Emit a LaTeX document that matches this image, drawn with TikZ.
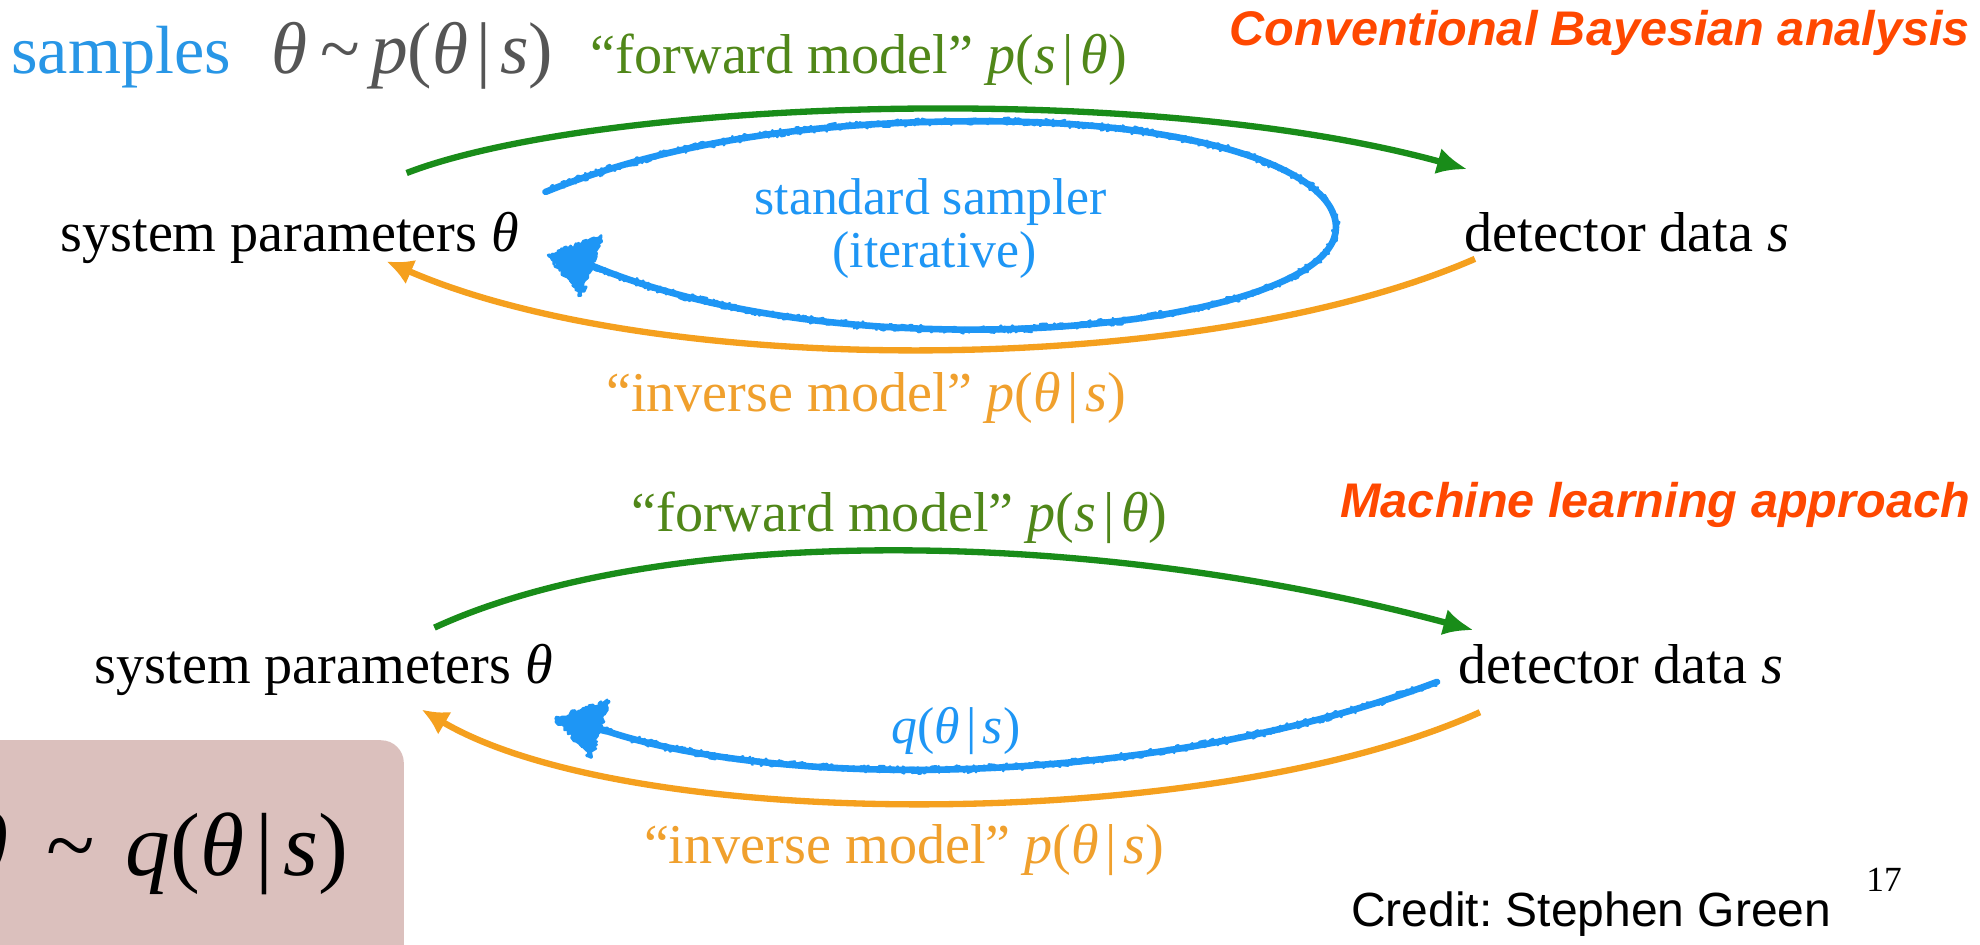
\documentclass[tikz,border=0pt]{standalone}
\usepackage{fontspec}
\setmainfont{Liberation Serif}
\newfontfamily\sansfam{Liberation Sans}
\usetikzlibrary{arrows.meta,decorations.pathmorphing}
\definecolor{sampleblue}{RGB}{40,150,230}
\definecolor{scribblue}{RGB}{30,150,245}
\definecolor{mathgray}{RGB}{85,85,85}
\definecolor{greentext}{RGB}{80,135,25}
\definecolor{greenline}{RGB}{25,140,25}
\definecolor{orangeline}{RGB}{245,160,30}
\definecolor{orangetext}{RGB}{240,160,45}
\definecolor{titlered}{RGB}{255,72,0}
\definecolor{boxpink}{RGB}{219,192,189}
\tikzset{
  lbl/.style={inner sep=0pt, outer sep=0pt},
  body/.style={lbl, font=\fontsize{44.5}{50}\selectfont},
  bluelbl/.style={lbl, text=scribblue, font=\fontsize{41}{46}\selectfont},
  titletext/.style={lbl, text=titlered, font=\sansfam\bfseries\itshape\fontsize{38.5}{45}\selectfont},
  garrow/.style={draw=greenline, line width=5pt, -{Latex[length=24pt,width=21pt]}},
  oarrow/.style={draw=orangeline, line width=5pt, -{Latex[length=21pt,width=21pt]}},
  scribbase/.style={draw=scribblue, line width=5.2pt, line cap=round, line join=round},
  scribfuzz/.style={draw=scribblue, line width=2pt, line cap=round, line join=round, decorate,
      decoration={random steps, segment length=1.3pt, amplitude=3pt}},
  scribhead/.style={fill=scribblue, draw=scribblue, line width=2pt, line join=round, decorate,
      decoration={random steps, segment length=1.5pt, amplitude=1.8pt}},
}
\newcommand{\thet}{\textit{θ}}
\newcommand{\vbar}{\kern0.12em|\kern0.12em}
\begin{document}
\frenchspacing
\begin{tikzpicture}[x=1pt,y=-1pt]
\pgfmathsetseed{7}
\useasboundingbox (0,0) rectangle (1568,748);
\fill[white] (0,0) rectangle (1568,748);
\clip (0,0) rectangle (1568,748);

% ---------- top row ----------
\node[lbl, anchor=base west] (samples) at (9,58)
  {\color{sampleblue}\fontsize{54}{60}\selectfont samples\hspace{32pt}%
   \color{mathgray}\fontsize{58}{60}\selectfont\thet\hspace{10pt}\textasciitilde\hspace{9pt}\textit{p}(\thet\vbar\textit{s})};
\node[body, text=greentext, anchor=base west] (fwd1) at (468,58)
  {“forward model” \textit{p}(\textit{s}\vbar\thet)};
\node[titletext, anchor=base east] (title1) at (1560,36) {Conventional Bayesian analysis};

\node[body, anchor=base west] (sys1) at (48,199) {system parameters \thet};
\node[body, anchor=base west] (det1) at (1160,199) {detector data \textit{s}};

\node[bluelbl, anchor=base] (samp1) at (737,170) {standard sampler};
\node[bluelbl, anchor=base] (iter1) at (740,212) {(iterative)};

\node[body, text=orangetext, anchor=base west] (inv1) at (480,326)
  {“inverse model” \textit{p}(\thet\vbar\textit{s})};

\coordinate (g1s) at (322,137);
\coordinate (g1e) at (1162,134);
\draw[garrow] (g1s) .. controls (470,80) and (900,62) .. (g1e);

\coordinate (o1s) at (1168,205);
\coordinate (o1e) at (306,207);
\draw[oarrow] (o1s) .. controls (950,300) and (520,300) .. (o1e);

\coordinate (b1s) at (432,152);
\coordinate (b1e) at (468,210);
\draw[scribbase] (b1s) .. controls (540,108) and (660,96) .. (778,96)
  .. controls (950,96) and (1058,135) .. (1058,180)
  .. controls (1058,228) and (920,262) .. (762,261)
  .. controls (640,260) and (540,240) .. (b1e);
\draw[scribfuzz] (b1s) .. controls (540,108) and (660,96) .. (778,96)
  .. controls (950,96) and (1058,135) .. (1058,180)
  .. controls (1058,228) and (920,262) .. (762,261)
  .. controls (640,260) and (540,240) .. (b1e);
\path[scribhead] (434,202) -- (476,188) -- (460,234) -- cycle;

% ---------- bottom row ----------
\node[titletext, anchor=base east] (title2) at (1560,410) {Machine learning approach};
\node[body, text=greentext, anchor=base west] (fwd2) at (500,421)
  {“forward model” \textit{p}(\textit{s}\vbar\thet)};

\node[body, anchor=base west] (sys2) at (75,541) {system parameters \thet};
\node[body, anchor=base west] (det2) at (1155,541) {detector data \textit{s}};

\coordinate (g2s) at (344,497);
\coordinate (g2e) at (1167,499);
\draw[garrow] (g2s) .. controls (520,416) and (857,416) .. (g2e);

\coordinate (b2s) at (1138,540);
\coordinate (b2m) at (764,609);
\coordinate (b2e) at (475,577);
\draw[scribbase] (b2s) .. controls (1019,585) and (884,605) .. (b2m)
  .. controls (643,613) and (536,599) .. (b2e);
\draw[scribfuzz] (b2s) .. controls (1019,585) and (884,605) .. (b2m)
  .. controls (643,613) and (536,599) .. (b2e);
\path[scribhead] (440,569) -- (482,555) -- (468,600) -- cycle;
\node[bluelbl, anchor=base west] (qlbl) at (706,589) {\textit{q}(\thet\vbar\textit{s})};

\coordinate (o2s) at (1172,564);
\coordinate (o2e) at (334,562);
\draw[oarrow] (o2s) .. controls (960,660) and (500,660) .. (o2e);

\node[body, text=orangetext, anchor=base west] (inv2) at (510,684)
  {“inverse model” \textit{p}(\thet\vbar\textit{s})};

% ---------- result box ----------
\node[fill=boxpink, rounded corners=18pt, minimum width=380pt, minimum height=200pt,
      anchor=north east, inner sep=0pt] (resbox) at (320,586) {};
\node[lbl, anchor=base east, font=\fontsize{71}{75}\selectfont] (result) at (276,693)
  {\thet\hspace{30pt}\textasciitilde\hspace{24pt}\textit{q}(\thet\vbar\textit{s})};

% ---------- credit ----------
\node[lbl, anchor=base west, font=\sansfam\fontsize{38}{42}\selectfont] (credit) at (1070,734)
  {Credit: Stephen Green};
\node[lbl, anchor=base west, font=\fontsize{28}{30}\selectfont] (page) at (1478,706) {17};
\end{tikzpicture}
\end{document}
